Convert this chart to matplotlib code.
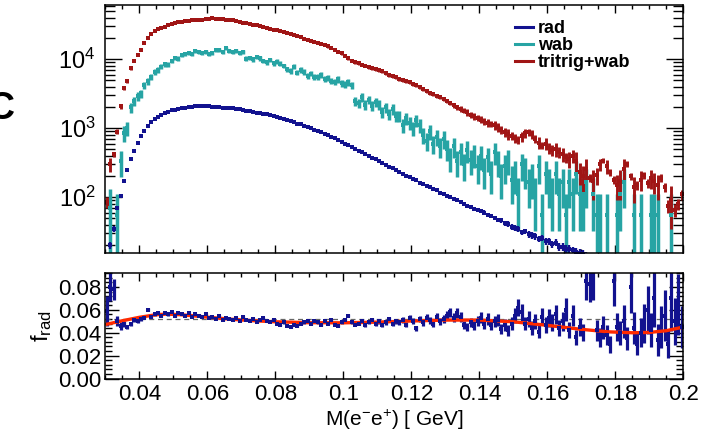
import numpy as np
import matplotlib
matplotlib.use("Agg")
import matplotlib.pyplot as plt
from matplotlib.ticker import FixedLocator, LogLocator, NullFormatter, MultipleLocator
from matplotlib.lines import Line2D

plt.rcParams['font.family'] = ['Liberation Sans', 'DejaVu Sans']
plt.rcParams['mathtext.fontset'] = 'custom'
plt.rcParams['mathtext.rm'] = 'Liberation Sans'
plt.rcParams['mathtext.it'] = 'Liberation Sans:italic'
plt.rcParams['mathtext.bf'] = 'Liberation Sans:bold'

# binning: 170 bins of 1 MeV from 0.03 to 0.2 GeV
x_lo, x_hi, n_bins = 0.03, 0.2, 170

# rad (weighted counts per bin)
rad = [
    10, 20, 35, 69, 104, 174, 245, 355, 468, 617,
    759, 912, 1072, 1230, 1349, 1445, 1549, 1660, 1738, 1820,
    1862, 1905, 1950, 1995, 2018, 2042, 2065, 2089, 2089, 2089,
    2065, 2042, 2030, 2010, 1995, 1980, 1960, 1945, 1910, 1871,
    1832, 1795, 1758, 1722, 1687, 1652, 1618, 1585, 1531, 1483,
    1432, 1387, 1340, 1294, 1253, 1211, 1170, 1132, 1084, 1038,
    991, 948, 906, 867, 828, 793, 757, 713, 673, 635,
    600, 566, 535, 501, 473, 447, 422, 398, 376, 355,
    335, 315, 296, 278, 261, 245, 231, 218, 206, 195,
    185, 176, 163, 157, 146, 140, 131, 126, 117, 113,
    105, 101, 94, 91, 84, 81, 75, 73, 68, 66,
    63, 60, 55, 54, 50, 47, 46, 42, 41, 37,
    36, 35, 31, 32, 29, 28, 27, 25, 26, 23,
    23, 21, 22, 19, 19, 18, 18, 17, 16, 15.5,
    15, 14, 13, 12, 11, 10, 10, 9, 8, 8,
    7, 7, 6, 6, 6, 5, 5, 5, 4, 4,
    4, 4, 3, 3, 3, 3, 3, 3, 3, 3,
]

# wab
wab = [
    0, 70, 0, 55, 330, 850, 1000, 2000, 2500, 2900,
    3200, 4200, 4800, 5500, 6500, 7000, 7800, 8400, 8300, 9500,
    10500, 10200, 11500, 11800, 12400, 12000, 13000, 12600, 12300, 12900,
    11800, 12500, 13400, 13800, 12600, 14300, 13200, 12700, 13100, 12400,
    12800, 10200, 10500, 10000, 10800, 10300, 9500, 9000, 9800, 8800,
    9200, 8600, 8000, 7200, 6800, 7800, 6400, 7000, 6600, 5800,
    6200, 5600, 5500, 6000, 5200, 5400, 4900, 4700, 5100, 4500,
    4300, 4600, 4200, 2500, 2300, 2800, 2200, 2600, 2100, 2400,
    2200, 1700, 2000, 1600, 1900, 1500, 1500, 1100, 1400, 1200,
    1000, 1300, 1100, 800, 650, 900, 600, 750, 550, 700,
    500, 380, 550, 330, 450, 300, 480, 350, 420, 280,
    400, 250, 380, 220, 450, 330, 200, 280, 350, 180,
    220, 110, 300, 250, 165, 200, 110, 280, 55, 220,
    165, 110, 220, 110, 165, 55, 165, 110, 220, 110,
    110, 165, 0, 110, 55, 55, 0, 55, 0, 0,
    55, 110, 165, 0, 0, 55, 0, 55, 0, 0,
    55, 55, 55, 0, 0, 0, 55, 0, 0, 0,
]

# tritrig+wab
tot = [
    85, 300, 420, 890, 2080, 3800, 4800, 7400, 9500, 11500,
    13650, 17000, 20000, 23000, 25500, 27200, 28500, 29500, 30800, 32000,
    33300, 34200, 35000, 35600, 36200, 36600, 36900, 37200, 37600, 38000,
    38500, 38900, 38600, 38200, 38700, 37500, 37000, 36400, 35700, 34900,
    34000, 33400, 32600, 31800, 31000, 30300, 29500, 28700, 27600, 26800,
    26200, 25600, 24800, 24000, 23400, 22600, 21700, 20800, 19900, 19200,
    18600, 17900, 17300, 16600, 15900, 15300, 14500, 13600, 12800, 12100,
    11200, 10300, 9500, 9000, 8700, 8300, 8000, 7700, 7400, 7100,
    6900, 6700, 6300, 5900, 5700, 5450, 5200, 5000, 4800, 4600,
    4400, 4200, 3950, 3700, 3450, 3250, 3100, 2950, 2800, 2650,
    2500, 2300, 2150, 2000, 1900, 1800, 1700, 1580, 1480, 1400,
    1330, 1260, 1200, 1150, 1100, 1030, 950, 880, 820, 780,
    720, 680, 760, 850, 880, 820, 700, 620, 560, 600,
    520, 480, 500, 450, 420, 380, 360, 400, 340, 230,
    200, 260, 190, 170, 210, 300, 340, 280, 230, 180,
    150, 170, 260, 300, 200, 140, 150, 180, 210, 160,
    190, 170, 150, 190, 140, 75, 90, 65, 80, 110,
]

# f_rad per bin
frad = [
    0.059, 0.080, 0.078, 0.050, 0.046, 0.048, 0.045, 0.048, 0.051, 0.050,
    0.052, 0.053, 0.060, 0.054, 0.056, 0.057, 0.055, 0.057, 0.056, 0.058,
    0.055, 0.057, 0.056, 0.055, 0.057, 0.054, 0.056, 0.055, 0.054, 0.056,
    0.053, 0.054, 0.052, 0.055, 0.051, 0.053, 0.052, 0.051, 0.053, 0.050,
    0.054, 0.051, 0.050, 0.052, 0.049, 0.051, 0.053, 0.050, 0.049, 0.051,
    0.048, 0.047, 0.049, 0.046, 0.045, 0.047, 0.046, 0.048, 0.049, 0.050,
    0.048, 0.050, 0.049, 0.047, 0.050, 0.048, 0.051, 0.047, 0.046, 0.049,
    0.051, 0.055, 0.049, 0.047, 0.048, 0.050, 0.047, 0.049, 0.051, 0.048,
    0.050, 0.047, 0.049, 0.052, 0.048, 0.050, 0.049, 0.051, 0.047, 0.053,
    0.050, 0.044, 0.052, 0.049, 0.053, 0.051, 0.048, 0.054, 0.050, 0.052,
    0.055, 0.058, 0.053, 0.057, 0.054, 0.047, 0.045, 0.049, 0.046, 0.050,
    0.053, 0.048, 0.052, 0.047, 0.050, 0.051, 0.043, 0.047, 0.042, 0.048,
    0.055, 0.062, 0.058, 0.048, 0.052, 0.044, 0.050, 0.041, 0.054, 0.047,
    0.053, 0.049, 0.056, 0.044, 0.050, 0.060, 0.042, 0.055, 0.036, 0.045,
    0.040, 0.085, 0.083, 0.086, 0.042, 0.036, 0.045, 0.038, 0.030, 0.085,
    0.045, 0.040, 0.050, 0.035, 0.080, 0.044, 0.030, 0.040, 0.048, 0.060,
    0.042, 0.070, 0.034, 0.045, 0.055, 0.030, 0.070, 0.050, 0.065, 0.045,
]

# fitted f_rad curve
fit_x = [0.0305, 0.035, 0.040, 0.045, 0.048, 0.052, 0.056, 0.060, 0.065, 0.070,
         0.075, 0.080, 0.090, 0.100, 0.110, 0.120, 0.130, 0.140, 0.150, 0.160,
         0.170, 0.178, 0.185, 0.190, 0.195, 0.200]
fit_y = [0.0475, 0.0505, 0.0535, 0.0558, 0.0563, 0.0558, 0.0548, 0.0537, 0.0523, 0.0512,
         0.0503, 0.0496, 0.0488, 0.0487, 0.0493, 0.0503, 0.0511, 0.0511, 0.0496, 0.0465,
         0.0430, 0.0408, 0.0400, 0.0403, 0.0418, 0.0450]
frad_mean = 0.052

# per-event weights used for the error bars
w_rad, w_tritrig, w_wab = 0.3, 3.0, 55.0

x_ticks = [0.04, 0.06, 0.08, 0.1, 0.12, 0.14, 0.16, 0.18, 0.2]
x_ticklabels = ['0.04', '0.06', '0.08', '0.1', '0.12', '0.14', '0.16', '0.18', '0.2']
y_ticks_top = [1e2, 1e3, 1e4]
y_ticklabels_top = [r'$\mathregular{10^{2}}$', r'$\mathregular{10^{3}}$', r'$\mathregular{10^{4}}$']
y_ticks_bot = [0.0, 0.02, 0.04, 0.06, 0.08]
y_ticklabels_bot = ['0.00', '0.02', '0.04', '0.06', '0.08']

c_rad = '#12128f'
c_wab = '#27a4a4'
c_tot = '#a01515'
c_fit = '#ff2a00'

rad = np.array(rad, float)
wab = np.array(wab, float)
tot = np.array(tot, float)
frad = np.array(frad, float)
assert len(rad) == len(wab) == len(tot) == len(frad) == n_bins

width = (x_hi - x_lo) / n_bins
x = x_lo + width * (np.arange(n_bins) + 0.5)

rad_err = np.sqrt(w_rad * rad)
wab_err = np.sqrt(w_wab * wab)
tot_err = np.sqrt(w_tritrig * (tot - wab) + w_wab * wab)
frad_err = frad / np.sqrt(2 * rad)

fig = plt.figure(figsize=(7.15, 4.32), dpi=100)
ax1 = fig.add_axes([0.1473, 0.4137, 0.8084, 0.5747])
ax2 = fig.add_axes([0.1473, 0.1238, 0.8084, 0.2436])

# top panel
ax1.set_yscale('log')
ax1.errorbar(x, np.where(wab > 0, wab, np.nan), yerr=wab_err, fmt='s', ms=2.5, mew=0,
             color=c_wab, ecolor=c_wab, elinewidth=2.5, capsize=0)
ax1.errorbar(x, tot, yerr=tot_err, fmt='s', ms=2.5, mew=0,
             color=c_tot, ecolor=c_tot, elinewidth=2.1, capsize=0)
ax1.errorbar(x, rad, yerr=rad_err, fmt='s', ms=2.5, mew=0,
             color=c_rad, ecolor=c_rad, elinewidth=1.7, capsize=0)
ax1.set_xlim(x_lo, x_hi)
ax1.set_ylim(15.4, 61000)
ax1.yaxis.set_major_locator(FixedLocator(y_ticks_top))
ax1.set_yticklabels(y_ticklabels_top)
ax1.yaxis.set_minor_locator(LogLocator(base=10, subs=np.arange(2, 10)))
ax1.yaxis.set_minor_formatter(NullFormatter())
ax1.xaxis.set_major_locator(FixedLocator(x_ticks))
ax1.xaxis.set_minor_locator(MultipleLocator(0.005))
ax1.set_xticklabels([])
ax1.tick_params(which='both', direction='in', top=True, right=True, width=1.0, labelsize=17)
ax1.tick_params(axis='y', which='major', length=12, pad=7)
ax1.tick_params(axis='y', which='minor', length=7)
ax1.tick_params(axis='x', which='major', length=6)
ax1.tick_params(axis='x', which='minor', length=3)

handles = [Line2D([], [], color=c_rad, lw=2.2),
           Line2D([], [], color=c_wab, lw=2.2),
           Line2D([], [], color=c_tot, lw=2.2)]
ax1.legend(handles, ['rad', 'wab', 'tritrig+wab'], loc='upper left',
           bbox_to_anchor=(0.708, 0.94), frameon=False,
           prop={'weight': 'bold', 'size': 13}, handlelength=1.0,
           handletextpad=0.3, labelspacing=0.0, borderpad=0, borderaxespad=0)

# ratio panel
ax2.axhline(frad_mean, ls='--', color='#666666', lw=0.9, dashes=(4, 3))
ax2.errorbar(x, frad, yerr=frad_err, fmt='s', ms=3.2, mew=0,
             color=c_rad, ecolor=c_rad, elinewidth=2.3, capsize=0)
ax2.plot(fit_x, fit_y, color=c_fit, lw=2.4)
ax2.set_xlim(x_lo, x_hi)
ax2.set_ylim(0, 0.092)
ax2.xaxis.set_major_locator(FixedLocator(x_ticks))
ax2.set_xticklabels(x_ticklabels)
ax2.xaxis.set_minor_locator(MultipleLocator(0.005))
ax2.yaxis.set_major_locator(FixedLocator(y_ticks_bot))
ax2.set_yticklabels(y_ticklabels_bot)
ax2.yaxis.set_minor_locator(MultipleLocator(0.004))
ax2.tick_params(which='both', direction='in', top=True, right=True, width=1.0, labelsize=16)
ax2.tick_params(axis='y', which='major', length=10, pad=3)
ax2.tick_params(axis='y', which='minor', length=5)
ax2.tick_params(axis='x', which='major', length=6, pad=4)
ax2.tick_params(axis='x', which='minor', length=3)
ax2.set_xlabel('M(e' + r'$^{\mathregular{-}}$' + 'e' + r'$^{\mathregular{+}}$' + ') [ GeV]',
               fontsize=15, labelpad=2)
ax2.set_ylabel(r'$\mathregular{f_{rad}}$', fontsize=17, labelpad=3)

for ax in (ax1, ax2):
    for s in ax.spines.values():
        s.set_linewidth(1.1)

fig.text(14 / 715, 1 - 109 / 432, 'C', fontsize=27, fontweight='bold', ha='right', va='center')

fig.savefig('out.png', dpi=100)
